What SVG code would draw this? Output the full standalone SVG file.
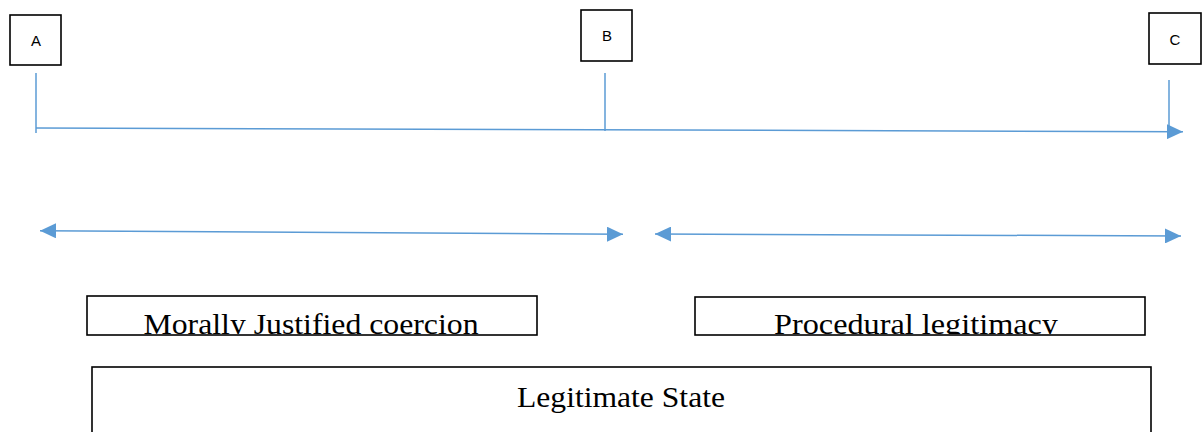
<svg xmlns="http://www.w3.org/2000/svg" width="1204" height="432" viewBox="0 0 1204 432">
<style>
.box{fill:#fff;stroke:#000;stroke-width:1.6}
.lbl{font-family:"Liberation Sans",Arial,sans-serif;font-size:15px;fill:#000;text-anchor:middle}
.big{font-family:"Liberation Serif","Times New Roman",serif;font-size:29px;fill:#000;text-anchor:middle}
.ln{stroke:#5B9BD5;stroke-width:1.5;fill:none}
</style>
<defs>
<marker id="ah" markerUnits="userSpaceOnUse" markerWidth="16" markerHeight="15" refX="16" refY="7.5" orient="auto-start-reverse">
<path d="M0,0 L16,7.5 L0,15 z" fill="#5B9BD5"/>
</marker>
<clipPath id="c1"><rect x="87" y="296" width="450" height="38"/></clipPath>
<clipPath id="c2"><rect x="695" y="297" width="450" height="37"/></clipPath>
</defs>
<g id="nodeA"><rect class="box" x="10" y="15" width="51" height="50"/><text class="lbl" x="36" y="46">A</text></g>
<g id="nodeB"><rect class="box" x="581" y="10" width="51" height="51"/><text class="lbl" x="607" y="41">B</text></g>
<g id="nodeC"><rect class="box" x="1149" y="13" width="52" height="51"/><text class="lbl" x="1175" y="45">C</text></g>
<g id="moral"><rect class="box" x="87" y="296" width="450" height="39"/><text class="big" x="311" y="334" textLength="335" lengthAdjust="spacingAndGlyphs" clip-path="url(#c1)">Morally Justified coercion</text></g>
<g id="procedural"><rect class="box" x="695" y="297" width="450" height="38"/><text class="big" x="916" y="334" textLength="284" lengthAdjust="spacingAndGlyphs" clip-path="url(#c2)">Procedural legitimacy</text></g>
<g id="state"><rect class="box" x="92" y="367" width="1059" height="90"/><text class="big" x="621" y="407" textLength="208" lengthAdjust="spacingAndGlyphs">Legitimate State</text></g>
<g id="connectors">
<line class="ln" x1="36" y1="73" x2="36" y2="133"/>
<line class="ln" x1="605" y1="73" x2="605" y2="131"/>
<line class="ln" x1="1169" y1="80" x2="1169" y2="132"/>
<line class="ln" x1="36" y1="128" x2="1183" y2="131.7" marker-end="url(#ah)"/>
<line class="ln" x1="40" y1="230.7" x2="623" y2="234.3" marker-start="url(#ah)" marker-end="url(#ah)"/>
<line class="ln" x1="655" y1="234" x2="1181" y2="236" marker-start="url(#ah)" marker-end="url(#ah)"/>
</g>
</svg>
